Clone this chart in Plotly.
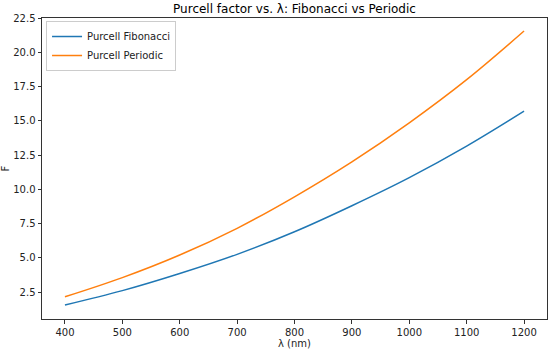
import plotly.graph_objects as go

wavelength_nm = [400, 500, 600, 700, 800, 900, 1000, 1100, 1200]
purcell_fibonacci = [1.55, 2.6, 3.85, 5.25, 6.9, 8.8, 10.85, 13.15, 15.7]
purcell_periodic = [2.15, 3.55, 5.2, 7.15, 9.45, 12.0, 14.85, 18.0, 21.55]

y_ticks = [2.5, 5.0, 7.5, 10.0, 12.5, 15.0, 17.5, 20.0, 22.5]

fig = go.Figure()
fig.add_trace(go.Scatter(x=wavelength_nm, y=purcell_fibonacci, mode="lines",
                         name="Purcell Fibonacci", line=dict(color="#1f77b4", width=1.5, shape="spline")))
fig.add_trace(go.Scatter(x=wavelength_nm, y=purcell_periodic, mode="lines",
                         name="Purcell Periodic", line=dict(color="#ff7f0e", width=1.5, shape="spline")))

font = "DejaVu Sans, Arial, sans-serif"
fig.update_layout(
    width=550, height=350,
    margin=dict(l=42, r=3, t=18, b=31),
    paper_bgcolor="white", plot_bgcolor="white",
    font=dict(family=font, size=10, color="#222"),
    title=dict(text="Purcell factor vs. λ: Fibonacci vs Periodic", xref="paper", x=0.5, xanchor="center",
               y=0.974, yanchor="middle", font=dict(size=12, color="black")),
    showlegend=True,
    legend=dict(x=0.008, y=0.99, xanchor="left", yanchor="top", bgcolor="rgba(255,255,255,0.8)",
                bordercolor="#cccccc", borderwidth=1, font=dict(size=10, color="#222"),
                tracegroupgap=0, itemwidth=30),
)
fig.update_xaxes(range=[360, 1240], tickvals=[400, 500, 600, 700, 800, 900, 1000, 1100, 1200],
                 automargin=False,
                 showgrid=False, zeroline=False, showline=True, linecolor="#333", linewidth=1,
                 mirror=True, ticks="outside", ticklen=3.5, tickcolor="#333",
                 title=dict(text="λ (nm)", standoff=2, font=dict(size=10)))
fig.update_yaxes(range=[0.53, 22.5], tickvals=y_ticks, tickformat=".1f",
                 automargin=False,
                 showgrid=False, zeroline=False, showline=True, linecolor="#333", linewidth=1,
                 mirror=True, ticks="outside", ticklen=3.5, tickcolor="#333",
                 title=dict(text="F", standoff=6, font=dict(size=10)))

fig.write_html("out.html", config={"displayModeBar": False},
               post_script="document.body.style.margin='0';document.body.style.overflow='hidden';")
